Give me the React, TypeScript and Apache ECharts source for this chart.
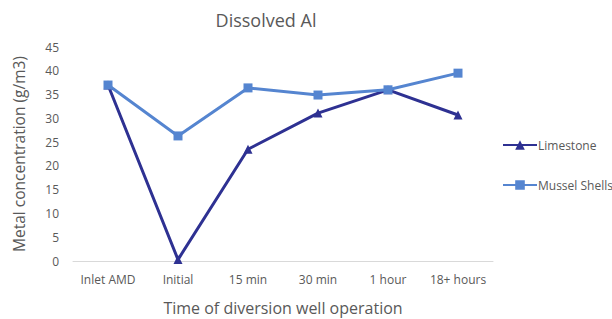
import React, { useEffect, useRef } from "react";
import * as echarts from "echarts";

const categories = ["Inlet AMD", "Initial", "15 min", "30 min", "1 hour", "18+ hours"];
const limestone = [37, 0.3, 23.5, 31.1, 36, 30.7];
const musselShells = [37, 26.3, 36.4, 34.9, 36, 39.5];
const yTicks = { min: 0, max: 45, interval: 5 };

export default function App() {
  const ref = useRef<HTMLDivElement>(null);
  useEffect(() => {
    if (!ref.current) return;
    const chart = echarts.init(ref.current, null, { renderer: "svg" });
    const font = "Open Sans";
    chart.setOption({
      animation: false,
      textStyle: { fontFamily: font },
      title: {
        text: "Dissolved Al",
        left: 261,
        textAlign: "center",
        top: 6,
        textStyle: { fontSize: 18, fontWeight: "normal", color: "#595959", fontFamily: font },
      },
      grid: { left: 73, right: 119, top: 47, bottom: 58, outerBoundsMode: "none", containLabel: false },
      legend: {
        orient: "vertical",
        left: 497,
        top: 134,
        itemGap: 28,
        itemWidth: 34,
        itemHeight: 12,
        textStyle: { fontSize: 12, color: "#595959", padding: [0, 0, 0, -4] },
        data: ["Limestone", "Mussel Shells"],
      },
      xAxis: {
        type: "category",
        data: categories,
        boundaryGap: true,
        axisLine: { lineStyle: { color: "#d9d9d9", width: 1 } },
        axisTick: { show: false },
        axisLabel: { color: "#595959", fontSize: 12, margin: 12, interval: 0 },
        name: "Time of diversion well operation",
        nameLocation: "middle",
        nameGap: 39,
        nameTextStyle: { fontSize: 16, color: "#595959" },
      },
      yAxis: {
        type: "value",
        min: yTicks.min,
        max: yTicks.max,
        interval: yTicks.interval,
        splitLine: { show: false },
        axisLine: { show: false },
        axisTick: { show: false },
        axisLabel: { color: "#595959", fontSize: 12, margin: 14 },
        name: "Metal concentration (g/m3)",
        nameLocation: "middle",
        nameGap: 46,
        nameTextStyle: { fontSize: 15.5, color: "#595959" },
      },
      series: [
        {
          name: "Limestone",
          type: "line",
          data: limestone,
          symbol: "triangle",
          symbolSize: 9,
          lineStyle: { color: "#2e3192", width: 3 },
          itemStyle: { color: "#2e3192" },
        },
        {
          name: "Mussel Shells",
          type: "line",
          data: musselShells,
          symbol: "rect",
          symbolSize: 9,
          lineStyle: { color: "#5585d0", width: 3 },
          itemStyle: { color: "#5585d0" },
        },
      ],
    });
    return () => chart.dispose();
  }, []);
  return <div ref={ref} style={{ width: 612, height: 319, position: "absolute", left: 0, top: 0 }} />;
}
